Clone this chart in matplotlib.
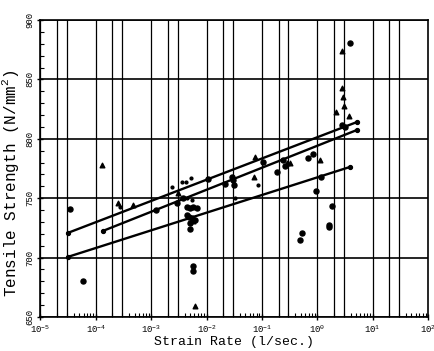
import numpy as np
import matplotlib
matplotlib.use('Agg')
import matplotlib.pyplot as plt
from matplotlib.ticker import LogLocator, NullFormatter, MultipleLocator

plt.rcParams['font.family'] = ['Liberation Mono', 'DejaVu Sans Mono']
plt.rcParams['mathtext.fontset'] = 'custom'
plt.rcParams['mathtext.rm'] = 'Liberation Mono'

# filled circles
circ_x = [3.4e-5, 5.9e-5, 5.7e-3, 5.7e-3, 1.2e-3, 4.35e-3, 5.0e-3, 5.7e-3, 6.6e-3,
          4.35e-3, 4.85e-3, 5.35e-3, 6.15e-3, 5.0e-3, 5.1e-3, 3.8e-3, 2.9e-3,
          0.029, 0.030, 0.031, 0.184, 0.24, 0.259, 0.68, 0.84, 0.94, 1.19, 1.88,
          1.63, 1.60, 0.52, 0.48, 3.87, 2.74, 3.13, 0.105, 0.0107, 0.0214]
circ_y = [740.6, 680.5, 693, 689, 740, 742.2, 741.5, 742.8, 741.5,
          735.9, 734.4, 733.1, 731.6, 728.9, 724.1, 749.9, 745.7,
          767.8, 765.3, 761.5, 772.3, 782.1, 777.1, 783.6, 787.2, 756.3, 767.6, 743.4,
          727.4, 725.5, 720.4, 714.8, 880.4, 811.6, 810.2, 780.7, 765.9, 761.7]

# triangles
tri_x = [1.27e-4, 2.5e-4, 4.6e-4, 6.15e-3, 0.0715, 0.0745, 1.11, 2.85, 2.74,
         2.92, 2.22, 3.0, 3.75, 0.32, 0.278, 3.07e-3, 5.6e-3]
tri_y = [777.9, 745.7, 744.3, 659.2, 768.1, 784.9, 782.1, 874.2, 842.5,
         835.4, 822.8, 827.6, 819.2, 780, 779.4, 754.1, 731]

# small dots
dot_x = [2.7e-4, 2.33e-3, 3.54e-3, 4.2e-3, 5.2e-3, 4.35e-3, 5.35e-3, 0.085, 0.0324]
dot_y = [742.8, 759.7, 763.4, 763.4, 767.2, 749.9, 748.5, 761.1, 749.9]

# regression lines (end points)
fit_top_x = [3.1e-5, 5.2]
fit_top_y = [720.7, 814.1]
fit_mid_x = [1.34e-4, 5.2]
fit_mid_y = [722.4, 807.4]
fit_low_x = [3.1e-5, 3.9]
fit_low_y = [700.5, 776.3]

decades = [1e-5, 1e-4, 1e-3, 1e-2, 1e-1, 1e0, 1e1, 1e2]
decade_labels = ['$10^{-5}$', '$10^{-4}$', '$10^{-3}$', '$10^{-2}$',
                 '$10^{-1}$', '$10^{0}$', '$10^{1}$', '$10^{2}$']
y_major = [650, 700, 750, 800, 850, 900]

fig = plt.figure(figsize=(4.35, 3.51), dpi=100)
ax = fig.add_axes([0.093, 0.097, 0.891, 0.846])
ax.set_xscale('log')
ax.set_xlim(1e-5, 1e2)
ax.set_ylim(650, 900)

# grid: horizontal every 50, vertical at 1, 2, 3 x decade
for yv in y_major:
    ax.axhline(yv, color='black', lw=1.2, zorder=1)
for d in decades[:-1]:
    for m in (1, 2, 3):
        ax.axvline(d * m, color='black', lw=0.9, zorder=1)

for fx, fy in [(fit_top_x, fit_top_y), (fit_mid_x, fit_mid_y), (fit_low_x, fit_low_y)]:
    ax.plot(fx, fy, color='black', lw=1.7, marker='o', markersize=2.8, zorder=3)

ax.scatter(circ_x, circ_y, marker='o', s=13, color='black', zorder=4)
ax.scatter(tri_x, tri_y, marker='^', s=11, color='black', zorder=4)
ax.scatter(dot_x, dot_y, marker='o', s=4, color='black', zorder=4)

ax.set_xticks(decades)
ax.set_xticklabels(decade_labels, fontsize=6.5)
ax.xaxis.set_minor_locator(LogLocator(base=10, subs=np.arange(2, 10)))
ax.xaxis.set_minor_formatter(NullFormatter())
ax.set_yticks(y_major)
ax.set_yticklabels([str(v) for v in y_major], fontsize=6.5, rotation=90, va='center')
ax.yaxis.set_minor_locator(MultipleLocator(10))
ax.tick_params(which='major', direction='inout', length=5, width=1, pad=2)
ax.tick_params(which='minor', direction='in', length=3, width=0.8)
for sp in ax.spines.values():
    sp.set_linewidth(1.2)

ax.set_xlabel('Strain Rate (l/sec.)', fontsize=9.5, labelpad=1)
ax.set_ylabel('Tensile Strength (N/mm$^2$)', fontsize=11.5)
ax.yaxis.set_label_coords(-0.05, 0.45)

fig.savefig('out.png', dpi=100)
